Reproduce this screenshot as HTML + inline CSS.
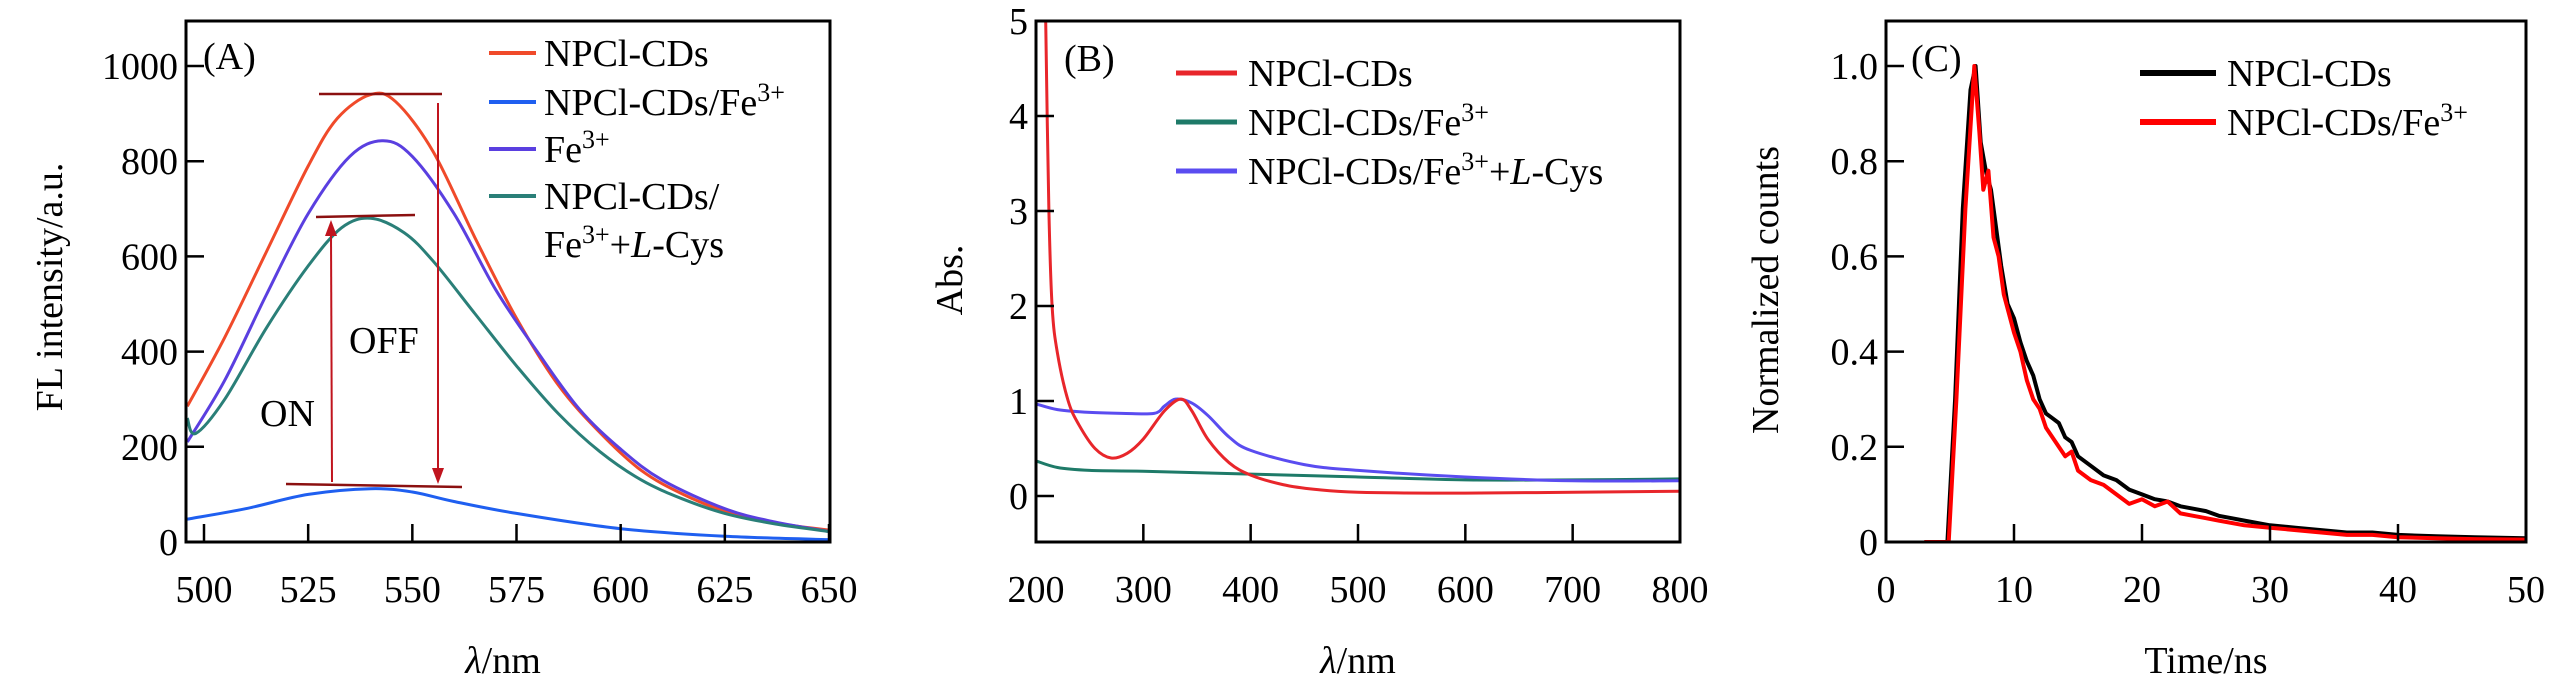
<!DOCTYPE html>
<html><head><meta charset="utf-8"><style>
html,body{margin:0;padding:0;background:#fff;}
svg{display:block;font-family:"Liberation Serif",serif;}
</style></head><body>
<svg id="fig" width="2567" height="693" viewBox="0 0 2567 693" xmlns="http://www.w3.org/2000/svg"></svg>
<script>
// Panel A data
const aNm1=[496,505,515,525,532,540,546,555,565,575,585,595,605,615,625,637,650];
const aRed=[285,430,610,790,890,940,925,820,640,470,330,230,150,100,65,40,25];
const aNm2=[496,505,515,525,535,543,550,560,570,580,590,600,610,625,637,650];
const aPurple=[210,340,520,690,810,843,810,690,530,400,280,195,130,70,42,22];
const aNm3=[496,498,505,515,525,533,540,548,555,565,575,585,595,605,615,625,637,650];
const aGreen=[260,228,300,450,580,660,680,650,590,480,370,270,190,130,90,60,38,22];
const aNm4=[496,510,525,540,550,560,575,600,625,650];
const aBlue=[48,70,100,112,105,85,60,28,12,5];
const aXTicks=[500,525,550,575,600,625,650];
const aYTicks=[0,200,400,600,800,1000];
// Panel B data
const bNm1=[209,212,215,220,230,240,255,270,285,300,320,335,345,360,380,400,430,460,500,600,700,800];
const bRed=[5.0,3.0,2.0,1.5,1.0,0.75,0.5,0.4,0.45,0.6,0.9,1.02,0.9,0.6,0.35,0.22,0.12,0.07,0.04,0.03,0.04,0.05];
const bNm2=[200,220,250,300,400,500,600,700,800];
const bGreen=[0.37,0.30,0.27,0.26,0.23,0.20,0.17,0.17,0.18];
const bNm3=[200,220,250,280,310,320,330,345,360,380,400,450,500,600,700,800];
const bBlue=[0.97,0.91,0.88,0.87,0.87,0.95,1.02,0.98,0.85,0.62,0.48,0.33,0.27,0.20,0.16,0.16];
const bXTicks=[200,300,400,500,600,700,800];
const bYTicks=[0,1,2,3,4,5];
// Panel C data
const cT1=[3,4.8,5.4,6.0,6.6,7.0,7.4,7.8,8.2,8.6,9.0,9.5,10,10.5,11,11.5,12,12.5,13,13.5,14,14.5,15,16,17,18,19,20,21,22,23,24,25,26,27,28,30,32,34,36,38,40,43,46,50];
const cBlack=[0,0,0.3,0.7,0.95,1.0,0.84,0.78,0.74,0.66,0.58,0.5,0.47,0.42,0.38,0.35,0.3,0.27,0.26,0.25,0.22,0.21,0.18,0.16,0.14,0.13,0.11,0.1,0.09,0.085,0.075,0.07,0.065,0.055,0.05,0.045,0.035,0.03,0.025,0.02,0.02,0.015,0.012,0.01,0.008];
const cT2=[3,4.9,5.5,6.2,6.9,7.3,7.6,8.0,8.4,8.8,9.2,9.6,10,10.5,11,11.5,12,12.5,13,13.5,14,14.5,15,16,17,18,19,20,21,22,23,24,25,26,28,30,32,34,36,38,40,43,46,50];
const cRed=[0,0,0.3,0.7,1.0,0.86,0.74,0.78,0.64,0.6,0.52,0.48,0.44,0.4,0.34,0.3,0.28,0.24,0.22,0.2,0.18,0.19,0.15,0.13,0.12,0.1,0.08,0.09,0.075,0.085,0.06,0.055,0.05,0.045,0.035,0.03,0.025,0.02,0.015,0.015,0.01,0.008,0.006,0.005];
const cXTicks=[0,10,20,30,40,50];
const cYTicks=["0","0.2","0.4","0.6","0.8","1.0"];

const NS="http://www.w3.org/2000/svg";
const svg=document.getElementById('fig');
function mk(tag,attrs,parent){const e=document.createElementNS(NS,tag);for(const k in attrs)e.setAttribute(k,attrs[k]);(parent||svg).appendChild(e);return e;}
function lin(d0,d1,r0,r1){return v=>r0+(v-d0)*(r1-r0)/(d1-d0);}
function axes(g,L,R,T,B,xs,ys,xt,yt,xtl,ytl){
  for(let i=0;i<xt.length;i++){const x=xs(xt[i]);
    const t=mk('line',{x1:x,x2:x,y1:B,y2:B-18,stroke:'#000','stroke-width':2.5},g);
    
    const l=mk('text',{x:x,y:B+60,'font-size':38,'text-anchor':'middle'},g);l.textContent=xtl[i];
    }
  for(let i=0;i<yt.length;i++){const y=ys(yt[i]);
    const t=mk('line',{x1:L,x2:L+18,y1:y,y2:y,stroke:'#000','stroke-width':2.5},g);
    
    const l=mk('text',{x:L-8,y:y+13,'font-size':38,'text-anchor':'end'},g);l.textContent=ytl[i];
    }
}
function frame(g,L,R,T,B){const r=mk('rect',{x:L,y:T,width:R-L,height:B-T,fill:'none',stroke:'#000','stroke-width':3},g);
 }
function curve(g,xsArr,ysArr,xs,ys,color,w,name,smooth){
  const P=xsArr.map((v,i)=>[xs(v),ys(ysArr[i])]);
  let d='M'+P[0][0].toFixed(1)+','+P[0][1].toFixed(1);
  for(let i=0;i<P.length-1;i++){
    if(smooth){const p0=P[Math.max(0,i-1)],p1=P[i],p2=P[i+1],p3=P[Math.min(P.length-1,i+2)];
      const c1=[p1[0]+(p2[0]-p0[0])/6,p1[1]+(p2[1]-p0[1])/6],c2=[p2[0]-(p3[0]-p1[0])/6,p2[1]-(p3[1]-p1[1])/6];
      d+='C'+c1[0].toFixed(1)+','+c1[1].toFixed(1)+' '+c2[0].toFixed(1)+','+c2[1].toFixed(1)+' '+p2[0].toFixed(1)+','+p2[1].toFixed(1);}
    else d+='L'+P[i+1][0].toFixed(1)+','+P[i+1][1].toFixed(1);}
  const p=mk('path',{d:d,fill:'none',stroke:color,'stroke-width':w,'stroke-linejoin':'round','clip-path':'url(#'+g.id+'c)'},g);
  }
function clip(g,L,R,T,B){const c=mk('clipPath',{id:g.id+'c'},g);mk('rect',{x:L,y:T,width:R-L,height:B-T},c);}
function legend(g,x1,x2,tx,y,color,w,html,name){
  const l=mk('line',{x1:x1,x2:x2,y1:y,y2:y,stroke:color,'stroke-width':w},g);
  
  const t=mk('text',{x:tx,y:y+13,'font-size':38},g);t.innerHTML=html;
  }
const FE='Fe<tspan dy="-14" font-size="26">3+</tspan>';
const FE2='Fe<tspan dy="-14" font-size="26">3+</tspan><tspan dy="14">+</tspan><tspan font-style="italic">L</tspan>-Cys';

// Panel A
{const g=mk('g',{id:'pa'});
 const L=186,R=830,T=21,B=542;clip(g,L,R,T,B);
 const xs=lin(500,650,204,829),ys=lin(0,1000,542,66);
 curve(g,aNm1,aRed,xs,ys,'#f04a2a',3,'series-npcl-cds',true);
 curve(g,aNm2,aPurple,xs,ys,'#5a3fe0',3,'series-fe3',true);
 curve(g,aNm3,aGreen,xs,ys,'#2a7f78',3,'series-npcl-cds-fe3-lcys',true);
 curve(g,aNm4,aBlue,xs,ys,'#1f5ff0',3,'series-npcl-cds-fe3',true);
 const rc='#c0141e';
 [[319,94,442,94],[316,217,415,215],[286,484,462,487]].forEach(a=>{const l=mk('line',{x1:a[0],y1:a[1],x2:a[2],y2:a[3],stroke:'#8b1010','stroke-width':2.5},g);});
 const off=mk('line',{x1:438,y1:103,x2:438,y2:470,stroke:rc,'stroke-width':2},g);
 mk('polygon',{points:'432,468 444,468 438,484',fill:rc},g);
 const on=mk('line',{x1:332,y1:482,x2:331,y2:234,stroke:rc,'stroke-width':2},g);
 mk('polygon',{points:'325,236 337,236 331,220',fill:rc},g);
 let t=mk('text',{x:349,y:353,'font-size':38},g);t.textContent='OFF';
 t=mk('text',{x:260,y:426,'font-size':38},g);t.textContent='ON';
 frame(g,L,R,T,B);
 axes(g,L,R,T,B,xs,ys,aXTicks,aYTicks,aXTicks.map(String),aYTicks.map(String));
 t=mk('text',{x:203,y:69,'font-size':38},g);t.textContent='(A)';
 legend(g,489,536,544,53,'#f04a2a',4,'NPCl-CDs','legend-npcl-cds');
 legend(g,489,536,544,102,'#1f5ff0',4,'NPCl-CDs/'+FE,'legend-npcl-cds-fe3');
 legend(g,489,536,544,149,'#5a3fe0',4,FE,'legend-fe3');
 legend(g,489,536,544,196,'#2a7f78',4,'NPCl-CDs/','legend-npcl-cds-fe3-lcys');
 t=mk('text',{x:544,y:257,'font-size':38},g);t.innerHTML=FE2;
 t=mk('text',{x:0,y:0,'font-size':38,'text-anchor':'middle',transform:'translate(62,287) rotate(-90)'},g);t.textContent='FL intensity/a.u.';
 t=mk('text',{x:503,y:673,'font-size':38,'text-anchor':'middle'},g);t.innerHTML='<tspan font-style="italic">λ</tspan>/nm';
}
// Panel B
{const g=mk('g',{id:'pb'});
 const L=1036,R=1680,T=21,B=542;clip(g,L,R,T,B);
 const xs=lin(200,800,L,R),ys=lin(0,5,496,21);
 curve(g,bNm2,bGreen,xs,ys,'#1e7a68',3,'series-npcl-cds-fe3',true);
 curve(g,bNm3,bBlue,xs,ys,'#5a4cf0',3,'series-npcl-cds-fe3-lcys',true);
 curve(g,bNm1,bRed,xs,ys,'#e8262b',3,'series-npcl-cds',true);
 frame(g,L,R,T,B);
 axes(g,L,R,T,B,xs,ys,bXTicks,bYTicks,bXTicks.map(String),bYTicks.map(String));
 let t=mk('text',{x:1064,y:71,'font-size':38},g);t.textContent='(B)';
 legend(g,1176,1237,1248,73,'#e8262b',5,'NPCl-CDs','legend-npcl-cds');
 legend(g,1176,1237,1248,122,'#1e7a68',5,'NPCl-CDs/'+FE,'legend-npcl-cds-fe3');
 legend(g,1176,1237,1248,171,'#5a4cf0',5,'NPCl-CDs/'+FE2,'legend-npcl-cds-fe3-lcys');
 t=mk('text',{x:0,y:0,'font-size':38,'text-anchor':'middle',transform:'translate(962,280) rotate(-90)'},g);t.textContent='Abs.';
 t=mk('text',{x:1358,y:673,'font-size':38,'text-anchor':'middle'},g);t.innerHTML='<tspan font-style="italic">λ</tspan>/nm';
}
// Panel C
{const g=mk('g',{id:'pc'});
 const L=1886,R=2526,T=21,B=542;clip(g,L,R,T,B);
 const xs=lin(0,50,L,R),ys=lin(0,1,542,66);
 curve(g,cT1,cBlack,xs,ys,'#000',4,'series-npcl-cds',false);
 curve(g,cT2,cRed,xs,ys,'#f00',4,'series-npcl-cds-fe3',false);
 frame(g,L,R,T,B);
 axes(g,L,R,T,B,xs,ys,cXTicks,[0,0.2,0.4,0.6,0.8,1.0],cXTicks.map(String),cYTicks);
 let t=mk('text',{x:1911,y:71,'font-size':38},g);t.textContent='(C)';
 legend(g,2140,2216,2227,73,'#000',6,'NPCl-CDs','legend-npcl-cds');
 legend(g,2140,2216,2227,122,'#f00',6,'NPCl-CDs/'+FE,'legend-npcl-cds-fe3');
 t=mk('text',{x:0,y:0,'font-size':38,'text-anchor':'middle',transform:'translate(1778,290) rotate(-90)'},g);t.textContent='Normalized counts';
 t=mk('text',{x:2206,y:673,'font-size':38,'text-anchor':'middle'},g);t.textContent='Time/ns';
}
</script>
</body></html>
